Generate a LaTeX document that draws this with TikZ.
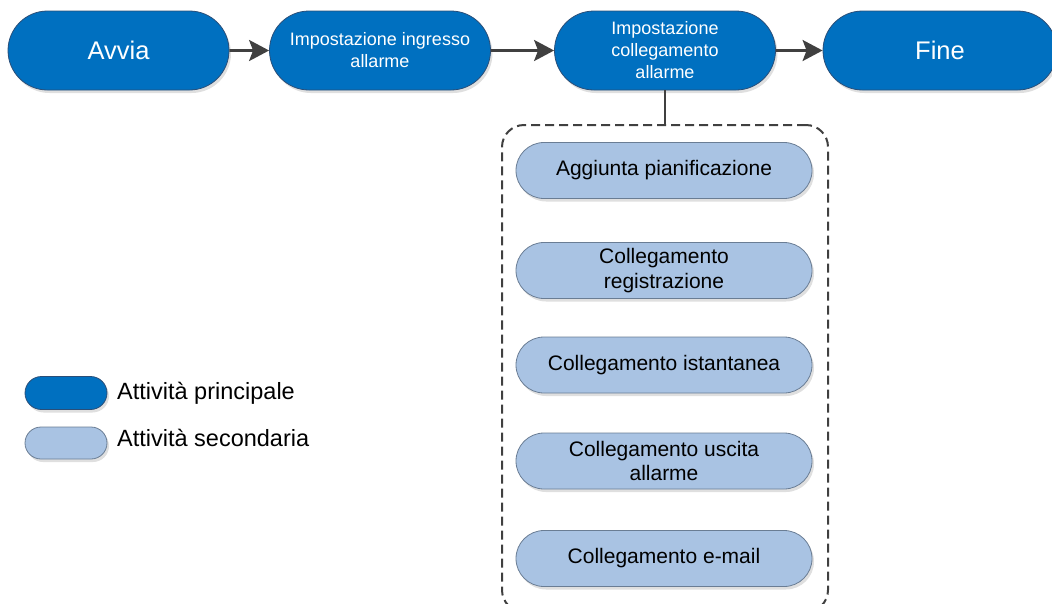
\documentclass[tikz,border=0pt]{standalone}
\usepackage{fontspec}
\setmainfont{Liberation Sans}
\usetikzlibrary{shapes.misc,shadows,arrows.meta}
\definecolor{mainblue}{HTML}{0070C0}
\definecolor{mainedge}{HTML}{2A4E78}
\definecolor{subblue}{HTML}{A9C3E3}
\definecolor{subedge}{HTML}{6A7D94}
\definecolor{linegray}{HTML}{404040}
\tikzset{
  mainbox/.style={rounded rectangle, draw=mainedge, line width=0.8pt, fill=mainblue,
    text=white, minimum width=221pt, minimum height=79pt, inner sep=0pt, align=center,
    drop shadow={shadow xshift=2pt, shadow yshift=-3pt, opacity=0.25}},
  subbox/.style={rounded rectangle, draw=subedge, line width=0.8pt, fill=subblue,
    text=black, minimum width=296pt, minimum height=56pt, inner sep=0pt, align=center,
    font=\fontsize{21}{24.5}\selectfont,
    drop shadow={shadow xshift=2pt, shadow yshift=-3pt, opacity=0.25}},
  bigtext/.style={font=\fontsize{25.5}{30}\selectfont},
  smalltext/.style={font=\fontsize{18}{22}\selectfont},
  flowarrow/.style={draw=linegray, line width=2.7pt, -{Stealth[length=20pt,width=21pt,inset=4pt]}},
  dashbox/.style={draw=linegray, line width=2pt, dash pattern=on 9pt off 5pt, rounded corners=22pt,
    minimum width=326pt, minimum height=487pt, inner sep=0pt},
  legtext/.style={anchor=west, inner sep=0pt, font=\fontsize{23.5}{28}\selectfont}
}
\begin{document}
\begin{tikzpicture}[x=1pt,y=-1pt]
\useasboundingbox (0,0) rectangle (1052,603);
\node[mainbox, bigtext] (avvia) at (118.5,50.5) {Avvia};
\node[mainbox, smalltext] (ingr) at (380,50.5) {Impostazione ingresso\\allarme};
\node[mainbox, smalltext] (coll) at (665,50.5) {Impostazione\\collegamento\\allarme};
\node[mainbox, bigtext, minimum width=234pt] (fine) at (940,50.5) {Fine};
\draw[flowarrow] (avvia) -- (ingr);
\draw[flowarrow] (ingr) -- (coll);
\draw[flowarrow] (coll) -- (fine);
\node[dashbox] (box) at (665,368.5) {};
\coordinate (boxtop) at (665,125);
\draw[draw=linegray, line width=2pt] (coll.south) -- (boxtop);
\node[subbox] (s1) at (664,170.5) {Aggiunta pianificazione};
\node[subbox] (s2) at (664,270.5) {Collegamento\\registrazione};
\node[subbox] (s3) at (664,365) {Collegamento istantanea};
\node[subbox] (s4) at (664,461) {Collegamento uscita\\allarme};
\node[subbox] (s5) at (664,558.5) {Collegamento e-mail};
\node[mainbox, minimum width=82pt, minimum height=33pt] (l1) at (66,393) {};
\node[subbox, minimum width=82pt, minimum height=32pt] (l2) at (66,443) {};
\node[legtext] (t1) at (117,393) {Attività principale};
\node[legtext] (t2) at (117,438) {Attività secondaria};
\end{tikzpicture}
\end{document}
